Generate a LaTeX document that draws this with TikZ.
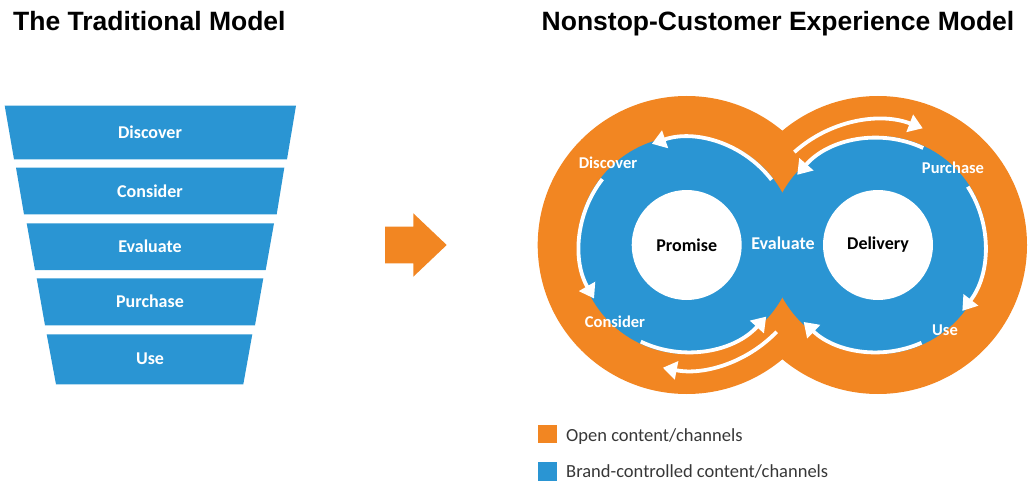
\documentclass[tikz,border=0pt]{standalone}
\usepackage{fontspec}
\setmainfont{Carlito}
\newfontfamily\titlefont{Liberation Sans}
\usetikzlibrary{arrows.meta}
\definecolor{cblue}{RGB}{42,149,211}
\definecolor{corange}{RGB}{242,134,34}
\definecolor{ctext}{RGB}{55,55,55}
\tikzset{
  title/.style={font=\titlefont\bfseries\fontsize{26.5}{30}\selectfont, text=black, anchor=base west, inner sep=0},
  funnelbox/.style={fill=cblue},
  funneltext/.style={font=\bfseries\fontsize{18}{20}\selectfont, text=white, inner sep=0},
  ringtext/.style={font=\bfseries\fontsize{16.5}{19}\selectfont, text=white, inner sep=0},
  centertext/.style={font=\bfseries\fontsize{18}{20}\selectfont, text=black, inner sep=0},
  legendtext/.style={font=\fontsize{18.5}{20}\selectfont, text=ctext, anchor=west, inner sep=0},
  warrow/.style={draw=white, line width=3.8pt, -{Triangle[length=14pt,width=18pt]}},
}
\begin{document}
\begin{tikzpicture}[x=1pt,y=1pt]
\useasboundingbox (0,0) rectangle (1031,-484);
% titles
\node[title] (t1) at (13,-30.7) {The Traditional Model};
\node[title] (t2) at (541.5,-30.7) {Nonstop-Customer Experience Model};
% funnel
\fill[funnelbox] (4.7,-105.7) -- (296,-105.7) -- (287,-159.3) -- (14,-159.3) -- cycle;
\fill[funnelbox] (16,-167.7) -- (284.3,-167.7) -- (276.7,-214.3) -- (24,-214.3) -- cycle;
\fill[funnelbox] (26.7,-223.3) -- (274,-223.3) -- (265.7,-270) -- (35,-270) -- cycle;
\fill[funnelbox] (36.7,-278.3) -- (263.3,-278.3) -- (255,-325.3) -- (45,-325.3) -- cycle;
\fill[funnelbox] (46.7,-334.3) -- (252.3,-334.3) -- (243.3,-384.3) -- (56,-384.3) -- cycle;
\node[funneltext] (f1) at (150,-132) {Discover};
\node[funneltext] (f2) at (150,-191) {Consider};
\node[funneltext] (f3) at (150,-246) {Evaluate};
\node[funneltext] (f4) at (150,-301) {Purchase};
\node[funneltext] (f5) at (150,-359) {Use};
% middle arrow
\fill[corange] (385,-226.7) -- (413.3,-226.7) -- (413.3,-213.3) -- (446.7,-245) -- (413.3,-276.7) -- (413.3,-263.3) -- (385,-263.3) -- cycle;
% figure eight
\coordinate (L) at (686.7,-245);
\coordinate (R) at (878,-245);
\fill[corange] (L) circle (149);
\fill[corange] (R) circle (149);
\fill[cblue] (L) circle (109);
\fill[cblue] (R) circle (109);
\fill[white] (L) circle (55);
\fill[white] (R) circle (55);
% white arrows, left loop
\draw[warrow] ([shift={(37.5:107)}]L) arc[start angle=37.5, end angle=109, radius=107];
\draw[warrow] ([shift={(142:107)}]L) arc[start angle=142, end angle=210, radius=107];
\draw[warrow] ([shift={(244.6:107)}]L) arc[start angle=244.6, end angle=318, radius=107];
\draw[warrow] ([shift={(-44:125)}]L) arc[start angle=-44, end angle=-101, radius=125];
% white arrows, right loop
\draw[warrow] ([shift={(132:125)}]R) arc[start angle=132, end angle=69, radius=125];
\draw[warrow] ([shift={(65:107)}]R) arc[start angle=65, end angle=139, radius=107];
\draw[warrow] ([shift={(33:107)}]R) arc[start angle=33, end angle=-38, radius=107];
\draw[warrow] ([shift={(-66:107)}]R) arc[start angle=-66, end angle=-134, radius=107];
% labels
\node[ringtext] (discover) at (608,-163) {Discover};
\node[ringtext] (consider) at (615,-322) {Consider};
\node[ringtext,font=\bfseries\fontsize{18}{20}\selectfont] (evaluate) at (783,-243) {Evaluate};
\node[ringtext] (purchase) at (953,-168) {Purchase};
\node[ringtext] (use) at (945,-330) {Use};
\node[centertext] (promise) at (L) {Promise};
\node[centertext] (delivery) at (R) {Delivery};
% legend
\fill[corange] (538.3,-425) rectangle (556.7,-443.3);
\fill[cblue] (538.3,-462) rectangle (556.7,-480.5);
\node[legendtext] (l1) at (566,-436.5) {Open content/channels};
\node[legendtext] (l2) at (566,-471.5) {Brand-controlled content/channels};
\end{tikzpicture}
\end{document}
